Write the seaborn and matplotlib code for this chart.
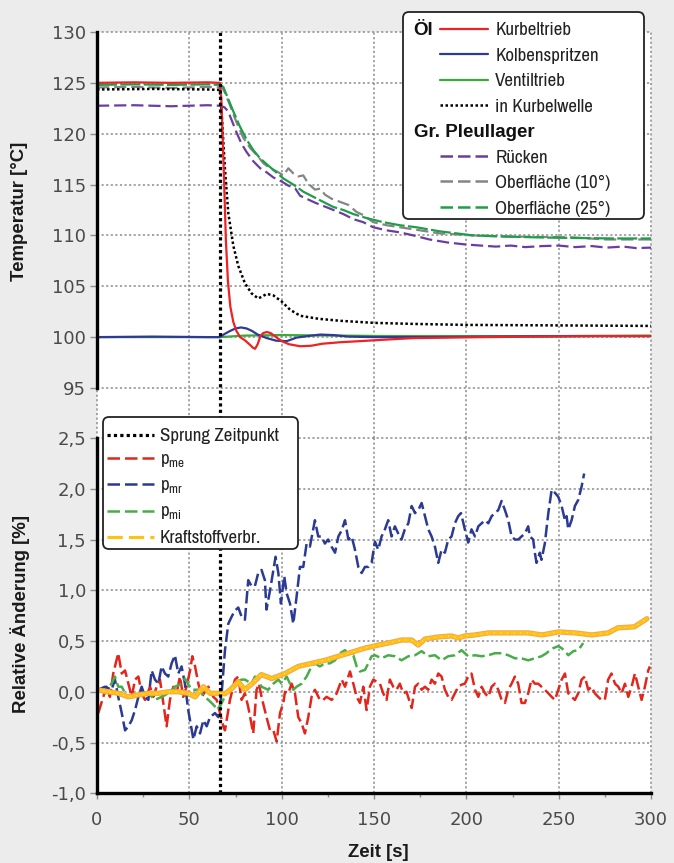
import matplotlib
matplotlib.use("Agg")
import matplotlib.pyplot as plt
import matplotlib.patheffects as pe
from matplotlib import font_manager
from matplotlib.lines import Line2D
from matplotlib.patches import FancyBboxPatch
from matplotlib.transforms import IdentityTransform
from matplotlib.font_manager import FontProperties
from matplotlib.ticker import MultipleLocator, FixedLocator, FixedFormatter
import seaborn as sns

# ---------------- Temperatures (upper panel) ----------------
kurbeltrieb_t = [0, 20, 40, 60, 66.5, 67.3, 68.0, 68.8, 69.8, 70.9, 72.2, 73.8, 75.5, 77.5, 80.0,
                 82.5, 84.5, 85.6, 87.0, 88.5, 90.0, 92.0, 94.0, 97.0, 100.0, 104.0, 110.0, 116.0,
                 122.0, 132.0, 142.0, 156.0, 171.0, 190.0, 210.0, 240.0, 270.0, 300.0]
kurbeltrieb_T = [125.0, 125.05, 125.0, 125.05, 125.0, 123.5, 120.0, 115.5, 109.5, 105.5, 103.0, 101.5,
                 100.6, 100.0, 99.7, 99.3, 98.95, 98.85, 99.3, 100.1, 100.4, 100.5, 100.4, 100.0, 99.6,
                 99.3, 99.1, 99.15, 99.35, 99.5, 99.6, 99.75, 99.9, 99.95, 100.0, 100.05, 100.1, 100.1]

kolben_t = [0, 30, 60, 66.5, 69, 72, 75, 78, 81, 84, 87, 92, 97, 102.7, 108, 114, 120.8, 128, 136,
            150, 180, 220, 260, 300]
kolben_T = [100.0, 100.05, 100.0, 100.0, 100.3, 100.6, 100.85, 100.95, 100.85, 100.6, 100.25, 99.9,
            99.65, 99.6, 99.95, 100.1, 100.25, 100.2, 100.05, 100.0, 100.0, 100.05, 100.1, 100.1]

ventil_t = [0, 66.5, 80, 100, 130, 160, 200, 250, 300]
ventil_T = [100.0, 100.0, 100.15, 100.2, 100.15, 100.1, 100.1, 100.1, 100.15]

welle_t = [0, 30, 60, 66.5, 67.5, 69.3, 71.1, 73.8, 76.5, 80.1, 83.7, 87.3, 89.5, 91.9, 95.5, 100,
           104.5, 110, 120, 132, 150, 171, 200, 250, 300]
welle_T = [124.35, 124.4, 124.35, 124.3, 122.0, 116.5, 112.2, 109.0, 107.0, 105.3, 104.3, 103.8,
           104.0, 104.25, 104.1, 103.5, 102.7, 102.1, 101.8, 101.6, 101.4, 101.3, 101.2, 101.15, 101.1]

ruecken_t = [0, 20, 40, 60, 66.5, 69, 71, 73, 75.6, 78.3, 81, 84.6, 88.4, 91.9, 95.5, 100, 103.6,
             107.4, 110, 113.5, 118.3, 122.5, 128, 133.4, 138.8, 144.2, 149.6, 156.8, 164, 171.3,
             180, 190, 200, 208, 216, 224, 232, 241, 250, 259, 268, 276, 285, 292, 300]
ruecken_T = [122.75, 122.8, 122.7, 122.8, 122.75, 122.6, 122.2, 121.3, 120.1, 119.0, 118.2, 117.3,
             116.6, 116.2, 115.7, 115.3, 114.9, 114.6, 113.9, 113.6, 113.2, 112.9, 112.5, 112.1,
             111.6, 111.3, 110.8, 110.5, 110.3, 110.0, 109.6, 109.3, 109.1, 109.0, 108.9, 109.0,
             108.85, 108.95, 109.0, 108.85, 108.95, 108.8, 108.9, 108.75, 108.8]

ofl10_t = [0, 20, 40, 60, 66.5, 68.4, 72, 75.6, 79.2, 82.9, 86.5, 90.1, 93.7, 97.3, 101, 103.6, 106.3,
           109, 111.7, 114.4, 118, 120.8, 123.5, 127.1, 131.6, 136.1, 140.6, 144.2, 149.6, 156.8,
           164, 171.3, 185.6, 203.7, 221.7, 239.8, 257.8, 275.8, 300]
ofl10_T = [124.55, 124.6, 124.5, 124.6, 124.55, 124.4, 122.8, 121.1, 119.6, 118.6, 117.9, 117.1,
           116.6, 116.3, 115.9, 116.6, 116.1, 115.8, 115.9, 115.1, 114.5, 114.6, 114.0, 113.6,
           113.3, 113.0, 112.3, 112.0, 111.3, 111.0, 110.8, 110.6, 110.2, 110.0, 109.9, 109.85,
           109.8, 109.6, 109.6]

ofl25_t = [0, 20, 40, 60, 66.5, 68.4, 70.2, 73.8, 77.4, 81.1, 84.6, 88.2, 91.9, 96.4, 100.9, 106.3,
           111.7, 117.1, 122.5, 127.9, 133.4, 138.8, 146, 155, 164, 173, 185.6, 203.7, 218, 240,
           258, 280, 300]
ofl25_T = [124.8, 124.85, 124.8, 124.85, 124.8, 124.6, 123.8, 122.2, 120.7, 119.4, 118.4, 117.6,
           117.0, 116.3, 115.6, 115.0, 114.3, 113.8, 113.3, 112.8, 112.5, 112.1, 111.7, 111.3,
           111.0, 110.8, 110.4, 110.0, 109.9, 109.8, 109.75, 109.7, 109.7]

# ---------------- Relative changes (lower panel) ----------------
pme_t = [0.7, 3.4, 5.2, 7.0, 8.8, 11.5, 13.4, 15.2, 17.0, 18.8,
         20.6, 22.4, 24.2, 26.0, 28.7, 30.5, 32.3, 34.1, 35.9, 37.7,
         39.5, 41.3, 43.1, 44.9, 46.7, 48.5, 50.4, 51.6, 53.1, 54.9,
         56.7, 58.5, 60.3, 63.0, 64.8, 66.6, 68.4, 69.3, 70.2, 72.0,
         74.7, 76.5, 78.3, 80.1, 81.9, 84.6, 86.4, 87.7, 89.1, 91.8,
         93.7, 95.5, 97.3, 99.1, 100.9, 101.8, 103.6, 105.4, 107.2, 109.0,
         110.8, 112.6, 114.4, 116.2, 118.0, 120.7, 122.5, 124.3, 127.1, 129.8,
         132.5, 134.3, 137.0, 138.8, 140.6, 142.4, 144.2, 146.0, 147.8, 149.6,
         153.2, 155.0, 156.8, 158.6, 160.4, 162.2, 164.0, 165.8, 167.6, 169.5,
         170.4, 172.2, 174.0, 175.8, 177.6, 179.4, 181.2, 183.0, 184.8, 186.6,
         188.4, 190.2, 192.0, 193.8, 195.6, 197.4, 199.2, 201.0, 202.8, 204.7,
         206.5, 208.3, 210.1, 211.9, 213.7, 215.5, 217.3, 219.1, 220.9, 222.7,
         224.5, 226.3, 228.1, 229.9, 231.7, 233.5, 235.3, 237.1, 238.9, 240.7,
         242.5, 244.4, 246.2, 248.0, 249.8, 251.6, 253.4, 255.2, 257.0, 258.8,
         260.6, 262.4, 264.2, 266.0, 267.8, 269.6, 271.4, 273.2, 275.0, 276.8,
         278.6, 280.5, 282.3, 284.1, 285.9, 287.7, 289.5, 291.3, 293.1, 294.9,
         296.7, 298.5, 299.4]
pme_v = [-0.21, -0.05, 0.05, -0.05, 0.18, 0.38, 0.18, 0.21, 0.08, -0.05,
         0.12, 0.15, -0.015, -0.08, 0.05, -0.05, 0.05, 0.12, -0.11, -0.34,
         -0.08, 0.05, -0.015, 0.15, -0.05, 0.05, 0.21, 0.35, 0.25, 0.08,
         -0.05, 0.0, 0.05, -0.05, -0.08, -0.21, -0.34, -0.38, -0.28, -0.08,
         0.12, 0.15, -0.08, -0.015, -0.15, -0.41, 0.02, 0.08, -0.05, -0.25,
         -0.38, -0.38, -0.49, -0.21, -0.11, 0.0, -0.015, 0.08, -0.015, -0.25,
         -0.31, -0.41, -0.25, -0.05, 0.02, -0.08, -0.08, -0.05, -0.08, -0.015,
         0.12, 0.05, 0.2, 0.08, -0.05, -0.11, 0.05, -0.18, 0.05, 0.12,
         0.08, -0.015, -0.08, 0.12, 0.05, 0.02, 0.08, -0.015, 0.0, -0.11,
         -0.16, 0.05, 0.08, 0.02, 0.05, 0.02, 0.12, 0.08, 0.18, 0.15,
         0.02, -0.05, -0.08, -0.015, 0.05, 0.07, 0.08, 0.15, 0.18, 0.02,
         -0.05, 0.05, -0.015, -0.05, 0.05, 0.08, 0.02, -0.08, -0.11, 0.02,
         0.08, 0.15, 0.08, -0.11, -0.11, -0.015, 0.12, 0.08, 0.08, 0.05,
         0.02, -0.015, -0.05, -0.08, 0.02, 0.12, 0.18, -0.015, -0.05, -0.08,
         -0.015, 0.12, 0.15, 0.02, 0.05, -0.015, -0.05, -0.08, -0.08, 0.12,
         0.18, 0.08, 0.05, -0.015, 0.08, -0.05, 0.05, 0.18, 0.05, -0.08,
         0.05, 0.21, 0.25]

pmr_t = [0.7, 4.3, 7.9, 9.7, 11.5, 13.4, 15.2, 17.0, 18.8, 20.6,
         22.4, 24.2, 26.0, 27.8, 29.6, 31.4, 33.2, 35.0, 36.8, 38.6,
         40.4, 42.2, 44.0, 45.8, 47.6, 49.4, 51.3, 52.2, 54.0, 55.8,
         57.6, 59.4, 61.2, 63.9, 65.7, 67.5, 69.3, 71.1, 72.9, 74.7,
         76.5, 78.3, 80.1, 81.9, 83.7, 85.5, 87.3, 89.1, 90.9, 91.8,
         93.7, 95.5, 96.7, 98.2, 99.6, 101.4, 102.7, 104.5, 106.3, 108.1,
         109.9, 111.7, 113.5, 115.3, 118.0, 119.8, 121.6, 123.4, 125.2, 127.0,
         128.9, 130.7, 132.5, 134.3, 136.1, 137.9, 139.7, 141.5, 143.3, 145.1,
         146.9, 148.7, 150.5, 152.3, 154.1, 155.9, 157.7, 159.5, 161.3, 163.1,
         164.9, 166.7, 168.6, 170.4, 172.2, 174.0, 175.8, 177.6, 179.4, 181.2,
         183.0, 184.8, 186.6, 188.4, 190.2, 192.0, 193.8, 195.6, 197.1, 199.2,
         201.0, 202.8, 204.7, 206.5, 208.3, 210.1, 211.9, 213.7, 215.5, 217.3,
         219.1, 220.9, 222.7, 224.5, 226.3, 228.1, 229.9, 231.7, 233.5, 234.4,
         236.2, 237.1, 238.0, 239.8, 240.7, 242.5, 244.4, 246.2, 248.0, 249.8,
         251.6, 253.4, 254.3, 255.2, 257.0, 258.8, 260.6, 262.4, 263.8]
pmr_v = [0.02, 0.05, 0.02, 0.12, -0.05, -0.21, -0.38, -0.34, -0.28, -0.18,
         -0.05, 0.05, -0.05, -0.08, 0.21, 0.12, 0.08, 0.25, 0.18, 0.15,
         0.28, 0.36, 0.18, 0.25, 0.08, -0.18, -0.38, -0.47, -0.34, -0.41,
         -0.28, -0.34, -0.25, -0.21, -0.25, -0.015, 0.41, 0.67, 0.74, 0.80,
         0.83, 0.74, 0.71, 1.10, 1.04, 1.04, 1.17, 1.20, 1.10, 0.81,
         1.00, 1.20, 1.33, 1.17, 0.87, 1.14, 0.97, 0.87, 0.67, 0.94,
         1.23, 1.23, 1.46, 1.43, 1.69, 1.53, 1.53, 1.46, 1.50, 1.43,
         1.37, 1.53, 1.59, 1.69, 1.50, 1.53, 1.40, 1.23, 1.17, 1.23,
         1.23, 1.27, 1.48, 1.40, 1.53, 1.60, 1.69, 1.53, 1.63, 1.56,
         1.50, 1.60, 1.66, 1.83, 1.76, 1.79, 1.86, 1.73, 1.60, 1.53,
         1.43, 1.27, 1.40, 1.37, 1.50, 1.53, 1.66, 1.73, 1.76, 1.60,
         1.47, 1.60, 1.53, 1.63, 1.66, 1.69, 1.66, 1.73, 1.76, 1.79,
         1.88, 1.79, 1.69, 1.53, 1.50, 1.50, 1.53, 1.56, 1.63, 1.53,
         1.50, 1.37, 1.27, 1.37, 1.30, 1.46, 1.76, 1.99, 1.96, 1.92,
         1.83, 1.69, 1.73, 1.60, 1.69, 1.83, 1.89, 2.02, 2.15]

pmi_t = [0.7, 4.3, 7.9, 9.7, 11.5, 13.4, 15.2, 17.0, 20.6, 24.2,
         27.8, 31.4, 35.0, 38.6, 42.2, 45.8, 47.6, 51.3, 54.9, 58.5,
         62.1, 65.7, 67.5, 70.2, 72.9, 75.6, 78.3, 80.1, 81.9, 83.7,
         85.5, 87.3, 89.1, 92.7, 95.5, 98.2, 100.0, 102.7, 104.5, 106.3,
         108.1, 110.8, 113.5, 116.2, 118.0, 120.7, 123.4, 126.1, 128.9, 131.6,
         134.3, 137.0, 138.8, 140.6, 142.4, 145.1, 146.9, 148.7, 150.5, 154.1,
         157.7, 161.3, 164.9, 168.6, 172.2, 175.8, 179.4, 183.0, 186.6, 190.2,
         193.8, 197.4, 201.0, 204.7, 208.3, 211.9, 215.5, 219.1, 222.7, 226.3,
         229.9, 233.5, 237.1, 240.7, 243.4, 245.3, 247.1, 249.8, 251.6, 253.4,
         255.2, 257.9, 260.6, 263.3]
pmi_v = [0.02, -0.015, 0.08, 0.15, 0.05, 0.05, -0.015, -0.05, -0.05, -0.015,
         -0.015, -0.08, -0.05, -0.015, 0.05, 0.08, 0.13, 0.02, 0.02, -0.05,
         -0.11, -0.18, -0.11, -0.015, 0.05, 0.1, 0.12, 0.12, 0.1, 0.08,
         0.15, 0.12, 0.05, 0.02, 0.08, 0.12, 0.08, 0.15, 0.08, 0.02,
         0.05, 0.08, 0.15, 0.25, 0.28, 0.25, 0.28, 0.28, 0.31, 0.38,
         0.41, 0.35, 0.36, 0.25, 0.2, 0.215, 0.28, 0.35, 0.36, 0.33,
         0.36, 0.35, 0.31, 0.35, 0.36, 0.40, 0.35, 0.36, 0.31, 0.35,
         0.36, 0.41, 0.35, 0.36, 0.35, 0.36, 0.38, 0.38, 0.36, 0.33,
         0.33, 0.31, 0.33, 0.35, 0.38, 0.41, 0.43, 0.45, 0.43, 0.40,
         0.36, 0.40, 0.41, 0.48]

fuel_t = [0, 6.1, 11.5, 17.0, 22.4, 27.8, 33.2, 38.6, 44.0, 49.4,
          53.1, 57.6, 61.2, 65.7, 69.3, 72.9, 76.5, 80.0, 84.0, 89.0,
          94.6, 101.8, 109.0, 116.2, 123.4, 130.7, 137.9, 145.1, 152.3, 157.7,
          165.0, 170.4, 174.0, 177.6, 184.8, 192.0, 195.6, 199.2, 204.7, 211.9,
          219.1, 226.3, 233.5, 241.0, 250.0, 258.8, 268.0, 276.8, 282.0, 291.0,
          297.8]
fuel_v = [0.02, 0.0, -0.015, -0.05, -0.03, -0.015, -0.015, 0.0, 0.0, -0.015,
          -0.05, 0.05, -0.015, -0.015, -0.02, 0.03, 0.1, 0.02, 0.08, 0.17,
          0.13, 0.18, 0.25, 0.28, 0.31, 0.35, 0.39, 0.43, 0.46, 0.48,
          0.51, 0.51, 0.46, 0.52, 0.54, 0.55, 0.53, 0.55, 0.56, 0.58,
          0.58, 0.58, 0.58, 0.56, 0.59, 0.58, 0.56, 0.58, 0.63, 0.64,
          0.72]

sprung_zeitpunkt = 66.5

x_ticks = [0, 50, 100, 150, 200, 250, 300]
temp_ticks = [95, 100, 105, 110, 115, 120, 125, 130]
rel_ticks = [-1.0, -0.5, 0.0, 0.5, 1.0, 1.5, 2.0, 2.5]
rel_tick_labels = ["-1,0", "-0,5", "0,0", "0,5", "1,0", "1,5", "2,0", "2,5"]

# ---------------- styling ----------------
sns.set_theme(style="white")
plt.rcParams["font.family"] = ["DejaVu Sans"]


def condensed_font(size):
    """Pick a narrow sans face if one is installed, else a compact regular one."""
    entries = font_manager.fontManager.ttflist
    for e in entries:
        if "narrow" in e.name.lower():
            return FontProperties(family=e.name, size=size)
    for fam in ("DejaVu Sans", "Noto Sans", "Open Sans", "Roboto", "Liberation Sans"):
        for e in entries:
            if e.name == fam and str(e.stretch) in ("condensed", "semi-condensed"):
                return FontProperties(family=fam, stretch=e.stretch, size=size)
    return FontProperties(family="Roboto", size=size - 0.5)


W, H = 674, 863
fig = plt.figure(figsize=(W / 100, H / 100), dpi=100, facecolor="#ececec")

# upper panel extends down through the gap so the vertical grid continues
ax_t = fig.add_axes([97 / W, 1 - 438 / H, 554 / W, 406 / H])
ax_b = fig.add_axes([97 / W, 1 - 793.3 / H, 554 / W, 355.3 / H])

narrow = condensed_font(13.6)
bold_head = FontProperties(family=["Liberation Sans", "DejaVu Sans"], weight="bold", size=13.5)
label_font = FontProperties(family=["Liberation Sans", "DejaVu Sans"], weight="bold", size=13.4)

grid_kw = dict(color="#8c8c8c", linewidth=1.1, linestyle=(0, (1.4, 1.6)))


def line(ax, t, v, **kw):
    sns.lineplot(x=t, y=v, ax=ax, estimator=None, sort=False, errorbar=None,
                 legend=False, **kw)


# upper panel curves
c_red, c_blue, c_green = "#ee2224", "#2e3a94", "#3aaa3a"
c_purple, c_gray, c_green2 = "#6a3ea0", "#858585", "#1f9e4a"
dash_top = (0, (5.5, 2.2))
line(ax_t, ofl10_t, ofl10_T, color=c_gray, linewidth=1.6, linestyle=dash_top)
line(ax_t, ruecken_t, ruecken_T, color=c_purple, linewidth=1.6, linestyle=dash_top)
line(ax_t, ofl25_t, ofl25_T, color=c_green2, linewidth=1.6, linestyle=(0, (9, 1.5)))
line(ax_t, welle_t, welle_T, color="black", linewidth=1.8, linestyle=(0, (1, 1)))
line(ax_t, ventil_t, ventil_T, color=c_green, linewidth=1.6)
line(ax_t, kolben_t, kolben_T, color=c_blue, linewidth=1.6)
line(ax_t, kurbeltrieb_t, kurbeltrieb_T, color=c_red, linewidth=1.6)

# lower panel curves
b_red, b_blue, b_green, b_yellow = "#e3261c", "#2b3a92", "#48ad48", "#ffc20e"
dash_bot = (0, (5, 1.8))
line(ax_b, pme_t, pme_v, color=b_red, linewidth=1.8, linestyle=dash_bot)
line(ax_b, pmr_t, pmr_v, color=b_blue, linewidth=1.8, linestyle=dash_bot)
line(ax_b, pmi_t, pmi_v, color=b_green, linewidth=1.8, linestyle=dash_bot)
line(ax_b, fuel_t, fuel_v, color=b_yellow, linewidth=2.6,
     path_effects=[pe.Stroke(linewidth=3.8, foreground="#f2a25e"), pe.Normal()])
line(ax_b, fuel_t, fuel_v, color="white", linewidth=0.6, linestyle=(0, (1, 7)))

for ax in (ax_t, ax_b):
    ax.axvline(sprung_zeitpunkt, color="black", linewidth=2.3, linestyle=(0, (1, 1)), zorder=6)
    ax.set_facecolor("white")
    ax.set_xlim(0, 300)
    ax.xaxis.set_major_locator(FixedLocator(x_ticks))
    ax.xaxis.set_minor_locator(MultipleLocator(25))
    ax.grid(True, which="major", **grid_kw)
    ax.set_axisbelow(True)
    for s in ("top", "right"):
        ax.spines[s].set_visible(False)
    ax.spines["left"].set_color("black")
    ax.spines["left"].set_linewidth(2.4)
    ax.tick_params(axis="y", which="major", left=True, length=5, width=1, color="#8c8c8c",
                   labelsize=13, labelcolor="#4a4a4a", pad=3)
    ax.set_xlabel("")
    ax.set_ylabel("")
    for gl in ax.get_xgridlines() + ax.get_ygridlines():
        gl.set_clip_on(False)

# upper panel axes
ax_t.set_ylim(90.08, 130)
ax_t.yaxis.set_major_locator(FixedLocator(temp_ticks))
ax_t.spines["left"].set_bounds(95, 130)
ax_t.spines["bottom"].set_visible(False)
ax_t.tick_params(axis="x", which="both", bottom=False, labelbottom=False)
ax_t.set_ylabel("Temperatur [°C]", fontproperties=label_font, color="#1a1a1a", va="center")
ax_t.yaxis.set_label_coords(-0.139, 0.559)

# lower panel axes
ax_b.set_ylim(-1.0, 2.5)
ax_b.yaxis.set_major_locator(FixedLocator(rel_ticks))
ax_b.yaxis.set_major_formatter(FixedFormatter(rel_tick_labels))
ax_b.spines["bottom"].set_color("black")
ax_b.spines["bottom"].set_linewidth(2.4)
ax_b.tick_params(axis="x", which="major", bottom=True, length=4, width=1, color="#8c8c8c",
                 labelsize=13, labelcolor="#4a4a4a", pad=9)
ax_b.tick_params(axis="x", which="minor", bottom=True, length=3, width=1, color="#8c8c8c")
ax_b.set_ylabel("Relative Änderung [%]", fontproperties=label_font, color="#1a1a1a", va="center")
ax_b.yaxis.set_label_coords(-0.139, 0.505)
ax_b.set_xlabel("Zeit [s]", fontproperties=label_font, color="#1a1a1a", va="center")
ax_b.xaxis.set_label_coords(0.507, -0.168)

# ---------------- legends ----------------
ident = IdentityTransform()


def frame(x0, y0, x1, y1):
    box = FancyBboxPatch((x0, H - y1), x1 - x0, y1 - y0,
                         boxstyle="round,pad=0,rounding_size=6", transform=ident,
                         facecolor="white", edgecolor="#222222", linewidth=1.3, zorder=4)
    fig.add_artist(box)


frame(403, 12, 644, 219)
top_handles = [
    Line2D([], [], color=c_red, linewidth=1.6),
    Line2D([], [], color=c_blue, linewidth=1.6),
    Line2D([], [], color=c_green, linewidth=1.6),
    Line2D([], [], color="black", linewidth=1.8, linestyle=(0, (1, 1))),
    Line2D([], [], linewidth=0),
    Line2D([], [], color=c_purple, linewidth=1.8, linestyle=(0, (5, 2))),
    Line2D([], [], color=c_gray, linewidth=1.8, linestyle=(0, (5, 2))),
    Line2D([], [], color=c_green2, linewidth=1.8, linestyle=(0, (5, 2))),
]
top_labels = ["Kurbeltrieb", "Kolbenspritzen", "Ventiltrieb", "in Kurbelwelle", " ",
              "Rücken", "Oberfläche (10°)", "Oberfläche (25°)"]
leg_t = fig.legend(top_handles, top_labels, loc="upper left",
                   bbox_to_anchor=(440 / W, 1 - 22 / H), frameon=False, prop=narrow,
                   handlelength=2.55, handletextpad=0.37, labelspacing=0.49,
                   borderpad=0, borderaxespad=0)
leg_t.set_zorder(6)
for txt in leg_t.get_texts():
    txt.set_color("#222222")

frame(103, 417, 298, 549)
bot_handles = [
    Line2D([], [], color="black", linewidth=2.3, linestyle=(0, (1, 1))),
    Line2D([], [], color=b_red, linewidth=1.8, linestyle=(0, (5, 2))),
    Line2D([], [], color=b_blue, linewidth=1.8, linestyle=(0, (5, 2))),
    Line2D([], [], color=b_green, linewidth=1.8, linestyle=(0, (5, 2))),
    Line2D([], [], color=b_yellow, linewidth=2.2, linestyle=(0, (5, 2))),
]
bot_labels = ["Sprung Zeitpunkt", r"p$_{\mathregular{me}}$", r"p$_{\mathregular{mr}}$",
              r"p$_{\mathregular{mi}}$", "Kraftstoffverbr."]
leg_b = fig.legend(bot_handles, bot_labels, loc="upper left",
                   bbox_to_anchor=(107 / W, 1 - 428 / H), frameon=False, prop=narrow,
                   handlelength=2.5, handletextpad=0.28, labelspacing=0.4,
                   borderpad=0, borderaxespad=0)
leg_b.set_zorder(6)
for txt in leg_b.get_texts():
    txt.set_color("#222222")

# group headings inside the upper legend
fig.canvas.draw()
renderer = fig.canvas.get_renderer()
texts = leg_t.get_texts()
b0 = texts[0].get_window_extent(renderer)
b3 = texts[3].get_window_extent(renderer)
b5 = texts[5].get_window_extent(renderer)
y_oel = (b0.y0 + b0.y1) / 2
y_gr = ((b3.y0 + b3.y1) / 2 + (b5.y0 + b5.y1) / 2) / 2
fig.text(413 / W, y_oel / H, "Öl", fontproperties=bold_head, color="#111111",
         ha="left", va="center", zorder=7)
fig.text(414 / W, y_gr / H, "Gr. Pleullager", fontproperties=bold_head, color="#111111",
         ha="left", va="center", zorder=7)

fig.savefig("out.png", dpi=100, facecolor=fig.get_facecolor())
